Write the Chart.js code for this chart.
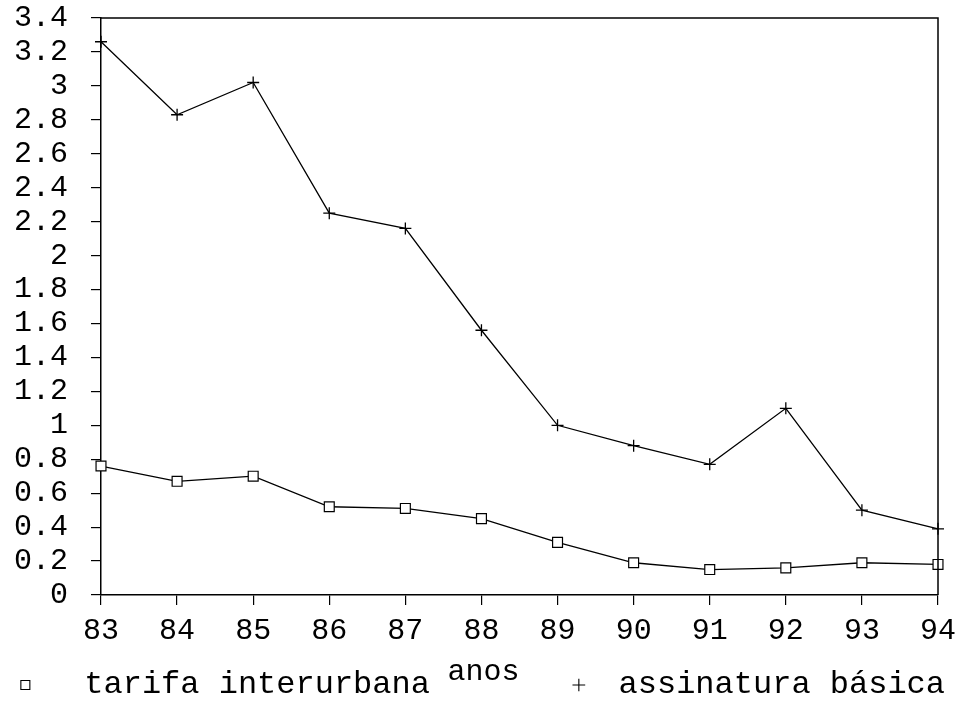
<!DOCTYPE html>
<html>
<head>
<meta charset="utf-8">
<script src="https://cdn.jsdelivr.net/npm/chart.js@4.4.1/dist/chart.umd.min.js"></script>
<style>
  body { margin: 0; background: #fff; }
  #wrap { width: 955px; height: 702px; position: relative; }
</style>
</head>
<body>
<div id="wrap"><canvas id="myChart"></canvas></div>
<script>
const anos = ["83", "84", "85", "86", "87", "88", "89", "90", "91", "92", "93", "94"];
const tarifaInterurbana = [0.76, 0.67, 0.70, 0.52, 0.51, 0.45, 0.31, 0.19, 0.15, 0.16, 0.19, 0.18];
const assinaturaBasica = [3.26, 2.83, 3.02, 2.25, 2.16, 1.56, 1.00, 0.88, 0.77, 1.10, 0.50, 0.39];
const yTickLabels = ["0", "0.2", "0.4", "0.6", "0.8", "1", "1.2", "1.4", "1.6", "1.8",
                     "2", "2.2", "2.4", "2.6", "2.8", "3", "3.2", "3.4"];

const mono = "'Liberation Mono', 'DejaVu Sans Mono', monospace";

// top and right edges of the plot frame
const frame = {
    id: "frame",
    afterDraw(chart) {
        const a = chart.chartArea;
        const c = chart.ctx;
        c.save();
        c.strokeStyle = "#000";
        c.lineWidth = 1.5;
        c.beginPath();
        c.moveTo(a.left, a.top);
        c.lineTo(a.right, a.top);
        c.lineTo(a.right, a.bottom);
        c.stroke();
        c.restore();
    },
};

const ctx = document.getElementById("myChart").getContext("2d");
const myChart = new Chart(ctx, {
    type: "line",
    data: {
        labels: anos,
        datasets: [
            {
                label: "tarifa interurbana",
                data: tarifaInterurbana,
                borderColor: "#000",
                backgroundColor: "#fff",
                borderWidth: 1.3,
                pointStyle: "rect",
                pointRadius: 7,
                pointBorderWidth: 1.2,
                pointBackgroundColor: "#fff",
                pointBorderColor: "#000",
                tension: 0,
            },
            {
                label: "assinatura básica",
                data: assinaturaBasica,
                borderColor: "#000",
                backgroundColor: "#fff",
                borderWidth: 1.3,
                pointStyle: "cross",
                pointRadius: 6,
                pointBorderWidth: 1.3,
                pointBorderColor: "#000",
                tension: 0,
            },
        ],
    },
    options: {
        responsive: true,
        maintainAspectRatio: false,
        animation: false,
        layout: { padding: { bottom: -9 } },
        plugins: {
            legend: {
                position: "bottom",
                align: "end",
                labels: {
                    usePointStyle: true,
                    boxWidth: 9,
                    boxHeight: 9,
                    padding: 10,
                    color: "#000",
                    font: { family: mono, size: 32 },
                    generateLabels: function (chart) {
                        const items = Chart.defaults.plugins.legend.labels.generateLabels(chart);
                        items.forEach(function (it, i) {
                            it.text = i === 0 ? "  " + it.text + "       " : " " + it.text;
                            it.strokeStyle = "#000";
                            it.fillStyle = "#fff";
                            it.lineWidth = 1.1;
                        });
                        return items;
                    },
                },
            },
            tooltip: { enabled: false },
        },
        scales: {
            x: {
                offset: false,
                grid: { display: true, drawOnChartArea: false, drawTicks: true, tickLength: 10, color: "#000", lineWidth: 1.2 },
                border: { display: true, color: "#000", width: 1.5 },
                ticks: { color: "#000", font: { family: mono, size: 30 }, padding: 8, maxRotation: 0, autoSkip: false },
                title: {
                    display: true,
                    text: "anos    ",
                    color: "#000",
                    font: { family: mono, size: 30 },
                    padding: { top: 0, bottom: -31 },
                },
                afterFit: function (scale) {
                    scale.height = 64;
                    scale.paddingLeft = 0;
                    scale.paddingRight = 17;
                },
            },
            y: {
                min: 0,
                max: 3.4,
                grid: { display: true, drawOnChartArea: false, drawTicks: true, tickLength: 10, color: "#000", lineWidth: 1.2 },
                border: { display: true, color: "#000", width: 1.5 },
                ticks: {
                    stepSize: 0.2,
                    autoSkip: false,
                    color: "#000",
                    padding: 23,
                    font: { family: mono, size: 30 },
                    callback: function (value, index) {
                        return yTickLabels[index];
                    },
                },
                afterFit: function (scale) {
                    scale.width = 101;
                    scale.paddingTop = 18;
                    scale.paddingBottom = 0;
                },
            },
        },
    },
    plugins: [frame],
});
</script>
</body>
</html>
